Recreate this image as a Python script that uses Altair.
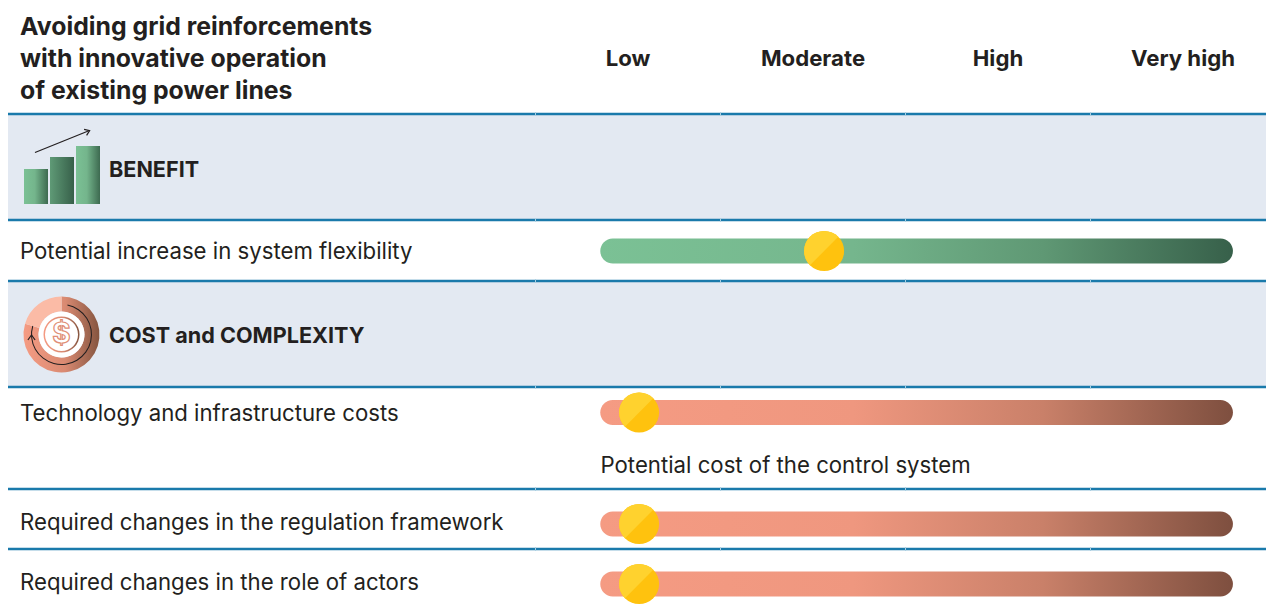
import altair as alt
import pandas as pd

# canvas geometry: the page keeps an 8px margin and caps the drawing at its content width
M = 8
W, H = 1258, 598
FONT = "Inter"
INK = "#231f20"
LOW_PX, LEVEL_PX = 628, 185

# ---- data ----
levels = ["Low", "Moderate", "High", "Very high"]
level_values = [0, 1, 2, 3]
level_edges = [-0.5, 0.5, 1.5, 2.5]
header_lines = ["Avoiding grid reinforcements", "with innovative operation", "of existing power lines"]
header_y = [27.5, 59.5, 91.5]
sections = ["BENEFIT", "COST and COMPLEXITY"]
section_y = [170.5, 336.5]
band_top = [114, 281]
band_bottom = [220, 387]
rule_y = [114, 220, 281, 387, 489, 549]
row_labels = ["Potential increase in system flexibility", "Technology and infrastructure costs",
              "Required changes in the regulation framework", "Required changes in the role of actors"]
row_y = [251, 412.5, 524, 584]
label_y = [252, 413.5, 522.5, 582.5]
knob_level = [1.06, 0.06, 0.06, 0.06]
bar_kind = ["green", "red", "red", "red"]
note = "Potential cost of the control system"
note_y = 465.5
bar_start, bar_end = -0.15, 3.27


def lv(px):
    """Page pixel expressed in level units, for the icons that share the level scale."""
    return (px - LOW_PX) / LEVEL_PX


# scales: level units horizontally, page px vertically
xs = alt.Scale(domain=[lv(M), lv(M + W)], range=[0, W], nice=False, zero=False)
ys = alt.Scale(domain=[M, M + H], range=[0, H], nice=False, zero=False)
X = alt.X("x:Q", scale=xs, axis=None)
Y = alt.Y("y:Q", scale=ys, axis=None)


def grad(*stops):
    return alt.Gradient(gradient="linear", x1=0, x2=1, y1=0, y2=0,
                        stops=[alt.GradientStop(offset=o, color=c) for o, c in stops])


green = grad((0, "#7bc195"), (0.4, "#75b68d"), (0.7, "#5f9874"), (1, "#37604a"))
red = grad((0, "#f59b83"), (0.4, "#ef977f"), (0.7, "#c98069"), (1, "#7e4f3f"))
icon_green = grad((0, "#7bc195"), (0.45, "#74b58c"), (1, "#3d6a50"))
icon_green2 = grad((0, "#5f9a76"), (1, "#37604a"))
coin = grad((0, "#f59b83"), (0.55, "#d98a72"), (1, "#84543f"))

layers = []


def df(**k):
    return pd.DataFrame(k)


# bands and rules
bands = df(y=band_top, y2=band_bottom)
layers.append(alt.Chart(bands).mark_rect(color="#e3e9f2").encode(
    x=alt.value(-3), x2=alt.value(W), y=Y, y2="y2:Q"))
rules = df(y=rule_y)
layers.append(alt.Chart(rules).mark_rule(color="#1a7aab", strokeWidth=2.5).encode(
    x=alt.value(0), x2=alt.value(W), y=Y))
notch = pd.DataFrame([{"x": e, "y": r - 2, "y2": r + 2} for e in level_edges for r in rule_y])
layers.append(alt.Chart(notch).mark_rule(color="#a9cfe2", strokeWidth=1).encode(x=X, y=Y, y2="y2:Q"))

# header text
layers.append(alt.Chart(df(y=header_y, t=header_lines)).mark_text(
    align="left", baseline="middle", font=FONT, fontWeight="bold", fontSize=24.8, color=INK
).encode(x=alt.value(12), y=Y, text="t:N"))
layers.append(alt.Chart(df(x=level_values, t=levels)).mark_text(
    align="center", baseline="middle", font=FONT, fontWeight="bold", fontSize=22.2, color=INK
).encode(x=X, y=alt.value(50.5), text="t:N"))

# section titles
layers.append(alt.Chart(df(y=section_y, t=sections)).mark_text(
    align="left", baseline="middle", font=FONT, fontWeight="bold", fontSize=21.6, color=INK
).encode(x=alt.value(101), y=Y, text="t:N"))

# row labels
layers.append(alt.Chart(df(y=label_y, t=row_labels)).mark_text(
    align="left", baseline="middle", font=FONT, fontSize=22.2, color=INK
).encode(x=alt.value(12), y=Y, text="t:N"))
layers.append(alt.Chart(df(y=[note_y], t=[note])).mark_text(
    align="left", baseline="middle", font=FONT, fontSize=22.2, color=INK
).encode(x=alt.value(592.5), y=Y, text="t:N"))

# rating bars
for kind, fill in (("green", green), ("red", red)):
    ids = [i for i, b in enumerate(bar_kind) if b == kind]
    d = df(x=[bar_start] * len(ids), x2=[bar_end] * len(ids), y=[row_y[i] - 12.5 for i in ids],
           y2=[row_y[i] + 12.5 for i in ids])
    layers.append(alt.Chart(d).mark_bar(fill=fill, cornerRadius=12.5).encode(x=X, x2="x2:Q", y=Y, y2="y2:Q"))

# knobs: a darker disc and a lighter upper-left half
knobs = df(x=knob_level, y=row_y)
layers.append(alt.Chart(knobs).mark_arc(fill="#ffc20e", outerRadius=20, innerRadius=0, theta=0, theta2=6.2832).encode(x=X, y=Y))
layers.append(alt.Chart(knobs).mark_arc(fill="#ffd22e", outerRadius=20, innerRadius=0, theta=3.927, theta2=7.069).encode(x=X, y=Y))

# benefit icon
ib = df(x=[lv(24), lv(50), lv(76)], x2=[lv(48), lv(74), lv(100)], y=[169, 157, 146], y2=[204, 204, 204],
        f=["a", "b", "a"])
for f, fill in (("a", icon_green), ("b", icon_green2)):
    layers.append(alt.Chart(ib[ib.f == f]).mark_rect(fill=fill).encode(x=X, x2="x2:Q", y=Y, y2="y2:Q"))
layers.append(alt.Chart(df(x=[lv(35)], x2=[lv(89.5)], y=[152.5], y2=[130.5])).mark_rule(color=INK, strokeWidth=1.2).encode(
    x=X, x2="x2:Q", y=Y, y2="y2:Q"))
CHEV = "M-1,0.7L0,-0.7L1,0.7"
layers.append(alt.Chart(df(x=[lv(87.5)], y=[131.5])).mark_point(shape=CHEV, size=44, filled=False, stroke=INK, strokeWidth=1.2, angle=68, opacity=1).encode(x=X, y=Y))

# cost icon
c = df(x=[lv(61.5)], y=[334.5])
layers.append(alt.Chart(c).mark_arc(fill=coin, outerRadius=38, innerRadius=23, theta=0, theta2=5.0).encode(x=X, y=Y))
layers.append(alt.Chart(c).mark_arc(fill="#fbbba6", outerRadius=38, innerRadius=23, theta=5.0, theta2=6.2832).encode(x=X, y=Y))
layers.append(alt.Chart(c).mark_arc(fill="#ffffff", outerRadius=23, innerRadius=0, theta=0, theta2=6.2832).encode(x=X, y=Y))
layers.append(alt.Chart(c).mark_arc(fill=coin, outerRadius=18, innerRadius=16.5, theta=0, theta2=6.2832).encode(x=X, y=Y))
layers.append(alt.Chart(c).mark_arc(fill=INK, outerRadius=30.5, innerRadius=29.5, theta=0.2, theta2=5.0).encode(x=X, y=Y))
layers.append(alt.Chart(c).mark_text(text="$", font=FONT, fontSize=28, fontWeight="bold", baseline="middle", align="center", fill="#ffffff", stroke="#e08e76", strokeWidth=1.2).encode(x=X, y=Y))
layers.append(alt.Chart(df(x=[lv(31.5)], y=[337.5])).mark_point(shape=CHEV, size=52, filled=False, stroke=INK, strokeWidth=1.2, opacity=1).encode(x=X, y=Y))

chart = alt.layer(*layers).properties(
    width=W, height=H, padding=0, autosize=alt.AutoSizeParams(type="none")
).configure_view(stroke=None)

chart.save("out.html", embed_options={"renderer": "svg", "actions": False})
